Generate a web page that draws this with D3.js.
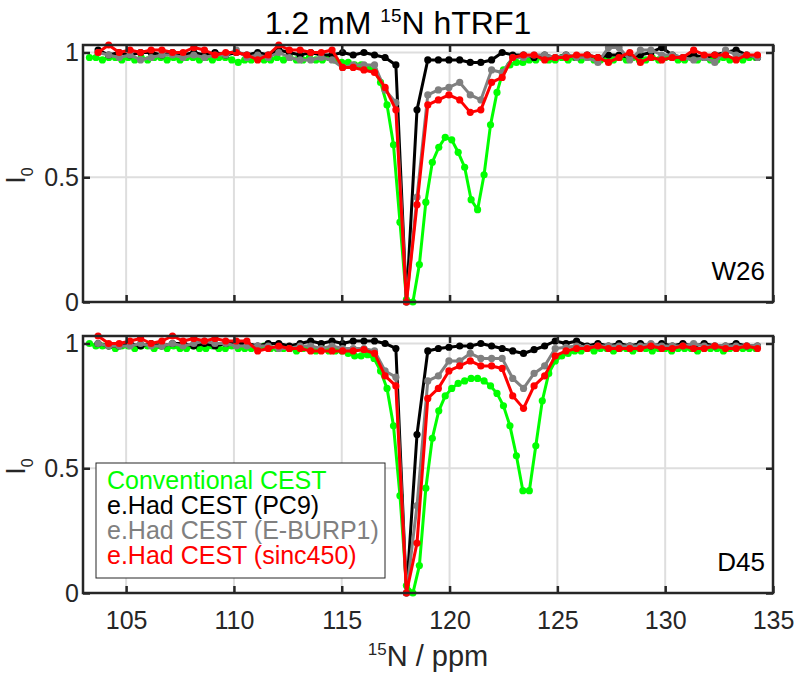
<!DOCTYPE html>
<html>
<head>
<meta charset="utf-8">
<script src="https://cdn.jsdelivr.net/npm/d3@7"></script>
<style>
  body { margin: 0; background: #fff; }
  svg { display: block; }
  text { font-family: "Liberation Sans", Arial, Helvetica, sans-serif; }
</style>
</head>
<body>
<div id="chart"></div>
<script>
// ---- data ----
var seriesNames  = ['Conventional CEST', 'e.Had CEST (PC9)', 'e.Had CEST (E-BURP1)', 'e.Had CEST (sinc450)'];
var seriesColors = ['#00ff00', '#000000', '#808080', '#ff0000'];
var panelLabels  = ['W26', 'D45'];
var xTicks       = [105, 110, 115, 120, 125, 130, 135];
var yTicks       = [0, 0.5, 1];
var yTickLabels  = ['0', '0.5', '1'];

// e.Had offsets (ppm)
var xHad = [103.70,104.19,104.68,105.18,105.67,106.16,106.66,107.15,107.64,108.14,
            108.63,109.12,109.62,110.11,110.60,111.10,111.59,112.08,112.57,113.07,
            113.56,114.05,114.55,115.04,115.53,116.03,116.52,117.01,117.51,118.00,
            118.49,118.99,119.48,119.97,120.47,120.96,121.45,121.95,122.44,122.93,
            123.43,123.92,124.41,124.90,125.40,125.89,126.38,126.88,127.37,127.86,
            128.36,128.85,129.34,129.84,130.33,130.82,131.32,131.81,132.30,132.80,
            133.29,133.78,134.28];
// conventional CEST offsets (ppm)
var xConv = [103.3,103.6,103.9,104.2,104.5,104.8,105.1,105.4,105.7,106.0,
             106.3,106.6,106.9,107.2,107.5,107.8,108.1,108.4,108.7,109.0,
             109.3,109.6,109.9,110.2,110.5,110.8,111.1,111.4,111.7,112.0,
             112.3,112.6,112.9,113.2,113.5,113.8,114.1,114.4,114.7,115.0,
             115.3,115.6,115.9,116.2,116.5,116.8,117.1,117.4,117.7,118.0,
             118.3,118.6,118.9,119.2,119.5,119.8,120.1,120.4,120.7,121.0,
             121.3,121.6,121.9,122.2,122.5,122.8,123.1,123.4,123.7,124.0,
             124.3,124.6,124.9,125.2,125.5,125.8,126.1,126.4,126.7,127.0,
             127.3,127.6,127.9,128.2,128.5,128.8,129.1,129.4,129.7,130.0,
             130.3,130.6,130.9,131.2,131.5,131.8,132.1,132.4,132.7,133.0,
             133.3,133.6,133.9,134.2];

// W26
var convW26 = [0.98,0.98,0.97,0.98,0.98,0.97,0.98,0.97,0.98,0.97,
               0.98,0.98,0.97,0.98,0.97,0.98,0.98,0.97,0.98,0.97,
               0.98,0.98,0.97,0.96,0.97,0.97,0.98,0.97,0.97,0.98,
               0.97,0.98,0.97,0.97,0.98,0.97,0.97,0.98,0.97,0.96,
               0.96,0.95,0.95,0.94,0.93,0.88,0.79,0.63,0.32,0.01,
               0.00,0.15,0.40,0.56,0.62,0.66,0.65,0.60,0.54,0.41,
               0.37,0.51,0.71,0.84,0.93,0.95,0.96,0.96,0.97,0.97,
               0.98,0.97,0.97,0.98,0.97,0.98,0.97,0.98,0.97,0.97,
               0.98,0.97,0.98,0.97,0.98,0.97,0.97,0.98,0.97,0.98,
               0.98,0.97,0.97,0.98,0.97,0.98,0.97,0.97,0.98,0.97,
               0.98,0.97,0.98,0.98];
var pc9W26 = [1.01,0.99,1.00,0.99,1.00,1.00,0.99,1.00,0.99,1.00,
              0.99,1.00,0.99,1.00,0.99,1.00,0.99,1.01,1.00,0.99,
              1.00,0.99,0.99,1.00,0.99,1.00,0.99,0.98,0.95,0.00,
              0.77,0.97,0.97,0.97,0.97,0.96,0.96,0.97,1.00,0.99,
              0.99,0.98,0.99,0.98,0.99,0.98,0.99,0.98,0.99,0.99,
              0.98,0.99,1.00,1.02,0.99,0.98,0.99,0.98,0.99,1.00,
              1.01,0.99,0.98];
var eburpW26 = [1.00,0.99,0.98,0.99,0.97,0.98,0.99,0.99,0.98,0.99,
                0.98,0.99,0.99,1.01,0.98,0.99,0.98,1.00,0.98,0.97,
                0.97,0.98,0.97,0.94,0.95,0.95,0.95,0.85,0.80,0.00,
                0.42,0.83,0.85,0.86,0.88,0.83,0.81,0.93,0.92,0.98,
                0.98,0.99,0.99,0.98,0.99,0.98,0.98,0.96,1.02,1.02,
                0.97,1.01,1.01,0.99,0.99,0.98,0.97,0.98,0.96,1.01,
                0.99,0.99,0.98];
var sincW26 = [1.00,1.03,1.00,1.01,1.00,1.01,1.01,1.00,1.00,1.02,
               1.01,0.99,1.00,1.00,0.99,0.97,0.99,1.03,1.01,1.01,
               1.00,1.00,1.01,0.94,0.94,0.93,0.92,0.86,0.77,0.00,
               0.39,0.79,0.81,0.83,0.81,0.76,0.77,0.88,0.90,0.98,
               0.99,0.99,0.97,0.98,0.98,0.99,0.99,0.98,0.96,0.98,
               1.00,0.96,0.98,0.97,0.98,0.98,1.01,0.99,0.99,0.99,
               0.97,0.99,0.99];

// D45
var convD45 = [1.00,0.99,0.99,0.99,0.98,0.99,0.99,0.98,0.99,0.99,
               0.98,0.99,0.98,0.99,0.98,0.98,0.99,0.98,0.98,0.99,
               0.98,0.98,0.99,0.98,0.98,0.98,0.98,0.99,0.98,0.98,
               0.98,0.98,0.97,0.98,0.98,0.97,0.98,0.97,0.97,0.97,
               0.96,0.95,0.95,0.955,0.94,0.89,0.82,0.67,0.39,0.03,
               0.00,0.11,0.42,0.62,0.73,0.79,0.82,0.84,0.85,0.86,
               0.86,0.85,0.83,0.80,0.75,0.67,0.55,0.41,0.41,0.59,
               0.77,0.88,0.93,0.95,0.96,0.97,0.97,0.98,0.97,0.98,
               0.98,0.97,0.98,0.98,0.97,0.98,0.98,0.97,0.98,0.98,
               0.97,0.98,0.98,0.98,0.97,0.98,0.98,0.98,0.97,0.98,
               0.98,0.98,0.98,0.98];
var pc9D45 = [1.00,0.99,0.99,1.00,0.99,1.00,0.99,1.00,1.00,0.99,
              1.00,0.99,1.00,1.00,1.00,0.99,1.00,1.00,0.99,1.00,
              1.01,1.00,1.01,1.00,1.01,1.01,1.01,1.00,0.98,0.00,
              0.635,0.97,0.98,0.985,0.99,0.99,1.00,0.99,0.98,0.97,
              0.96,0.975,0.99,1.01,1.00,1.01,0.99,1.00,0.99,1.00,
              0.99,1.00,0.99,1.00,0.99,1.00,0.99,1.00,0.99,0.99,
              1.00,0.99,0.99];
var eburpD45 = [1.00,0.99,0.99,0.99,1.00,0.99,0.99,1.00,0.99,1.00,
                1.01,1.00,1.00,0.99,0.99,0.99,0.99,0.98,0.98,0.99,
                0.99,0.98,0.99,0.98,0.98,0.98,0.97,0.89,0.865,0.00,
                0.35,0.85,0.87,0.93,0.93,0.96,0.94,0.94,0.94,0.86,
                0.82,0.88,0.91,0.98,0.985,0.99,0.985,0.99,0.99,0.99,
                0.99,0.99,1.00,0.99,0.99,0.99,1.00,0.99,0.99,0.99,
                0.99,0.99,0.99];
var sincD45 = [1.03,1.00,1.00,1.01,1.02,1.00,1.01,1.03,1.01,1.02,
               1.01,1.02,1.01,1.01,1.01,0.97,0.98,0.99,0.98,0.98,
               0.97,0.97,0.97,0.97,0.97,0.975,0.96,0.87,0.83,0.00,
               0.20,0.78,0.82,0.89,0.91,0.93,0.91,0.91,0.90,0.79,
               0.74,0.83,0.87,0.95,0.97,0.98,0.98,0.99,0.98,0.98,
               0.98,0.98,0.99,0.98,0.98,0.99,0.98,0.98,0.99,0.98,
               0.98,0.99,0.98];

var xSets    = [xConv, xHad, xHad, xHad];
var panelData = [
    [convW26, pc9W26, eburpW26, sincW26],
    [convD45, pc9D45, eburpD45, sincD45]
];

// ---- layout ----
var W = 796, H = 676;
var plotLeft = 83, plotRight = 773;
var panelBox = [ { top: 45, bottom: 302 }, { top: 336, bottom: 593 } ];
var axisColor = '#262626';
var gridColor = '#dedede';

var svg = d3.select('#chart').append('svg')
    .attr('width', W).attr('height', H)
    .style('background', '#fff');

var x = d3.scaleLinear().domain([103, 135]).range([plotLeft, plotRight]);

panelBox.forEach(function (box, pi) {
    var y = d3.scaleLinear().domain([0, 1.03]).range([box.bottom, box.top]);
    var g = svg.append('g');

    // grid
    g.append('g').selectAll('line.vg')
        .data(xTicks.filter(function (t) { return t < 135; }))
        .enter().append('line')
        .attr('x1', function (d) { return x(d); }).attr('x2', function (d) { return x(d); })
        .attr('y1', box.top).attr('y2', box.bottom)
        .attr('stroke', gridColor).attr('stroke-width', 2);
    g.append('g').selectAll('line.hg')
        .data(yTicks.filter(function (t) { return t > 0; }))
        .enter().append('line')
        .attr('x1', plotLeft).attr('x2', plotRight)
        .attr('y1', function (d) { return y(d); }).attr('y2', function (d) { return y(d); })
        .attr('stroke', gridColor).attr('stroke-width', 2);

    // series (green, black, grey, red — red on top)
    panelData[pi].forEach(function (vals, si) {
        var pts = vals.map(function (v, i) { return [xSets[si][i], v]; });
        var sg = g.append('g');
        sg.append('path')
            .datum(pts)
            .attr('fill', 'none')
            .attr('stroke', seriesColors[si])
            .attr('stroke-width', 3)
            .attr('stroke-linejoin', 'round')
            .attr('d', d3.line()
                .x(function (d) { return x(d[0]); })
                .y(function (d) { return y(d[1]); }));
        sg.selectAll('circle').data(pts).enter().append('circle')
            .attr('cx', function (d) { return x(d[0]); })
            .attr('cy', function (d) { return y(d[1]); })
            .attr('r', 3.6)
            .attr('fill', seriesColors[si]);
    });

    // axes, ticks pointing inward
    var fmtNone = function () { return ''; };
    g.append('g').attr('transform', 'translate(0,' + box.bottom + ')')
        .call(d3.axisBottom(x).tickValues(xTicks).tickSizeInner(-7).tickSizeOuter(0).tickPadding(18)
            .tickFormat(pi === 1 ? d3.format('d') : fmtNone));
    g.append('g').attr('transform', 'translate(0,' + box.top + ')')
        .call(d3.axisTop(x).tickValues(xTicks).tickSizeInner(-7).tickSizeOuter(0).tickFormat(fmtNone));
    g.append('g').attr('transform', 'translate(' + plotLeft + ',0)')
        .call(d3.axisLeft(y).tickValues(yTicks).tickSizeInner(-7).tickSizeOuter(0).tickPadding(4)
            .tickFormat(function (d, i) { return yTickLabels[i]; }));
    g.append('g').attr('transform', 'translate(' + plotRight + ',0)')
        .call(d3.axisRight(y).tickValues(yTicks).tickSizeInner(-7).tickSizeOuter(0).tickFormat(fmtNone));

    g.selectAll('.domain').remove();
    g.selectAll('.tick line').attr('stroke', axisColor).attr('stroke-width', 2.5);
    g.selectAll('.tick text').attr('fill', axisColor).style('font-size', '25px')
        .style('font-family', '"Liberation Sans", Arial, sans-serif');

    // box
    g.append('rect')
        .attr('x', plotLeft).attr('y', box.top)
        .attr('width', plotRight - plotLeft).attr('height', box.bottom - box.top)
        .attr('fill', 'none').attr('stroke', axisColor).attr('stroke-width', 2.5);

    // y label I0
    var yl = g.append('text')
        .attr('transform', 'translate(25,' + ((box.top + box.bottom) / 2 + 2) + ') rotate(-90)')
        .attr('text-anchor', 'middle')
        .attr('fill', axisColor)
        .style('font-size', '27px');
    yl.append('tspan').text('I');
    yl.append('tspan').attr('dy', 8).style('font-size', '16px').text('0');

    // residue label
    g.append('text')
        .attr('x', 765).attr('y', box.bottom - 22)
        .attr('text-anchor', 'end')
        .attr('fill', '#000')
        .style('font-size', '26px')
        .text(panelLabels[pi]);
});

// legend (bottom panel)
var leg = svg.append('g').attr('transform', 'translate(96,463)');
leg.append('rect')
    .attr('width', 289).attr('height', 115)
    .attr('fill', '#fff').attr('stroke', axisColor).attr('stroke-width', 1);
leg.selectAll('text').data(seriesNames).enter().append('text')
    .attr('x', 11)
    .attr('y', function (d, i) { return 25.5 + i * 25.3; })
    .attr('fill', function (d, i) { return seriesColors[i]; })
    .style('font-size', '25px')
    .text(function (d) { return d; });

// title
var title = svg.append('text')
    .attr('x', 398).attr('y', 34)
    .attr('text-anchor', 'middle')
    .attr('fill', '#000')
    .style('font-size', '32px');
title.append('tspan').text('1.2 mM ');
title.append('tspan').attr('dy', -12).style('font-size', '19px').text('15');
title.append('tspan').attr('dy', 12).text('N hTRF1');

// x label
var xl = svg.append('text')
    .attr('x', (plotLeft + plotRight) / 2).attr('y', 666)
    .attr('text-anchor', 'middle')
    .attr('fill', axisColor)
    .style('font-size', '29px');
xl.append('tspan').attr('dy', -11).style('font-size', '17px').text('15');
xl.append('tspan').attr('dy', 11).text('N / ppm');
</script>
</body>
</html>
